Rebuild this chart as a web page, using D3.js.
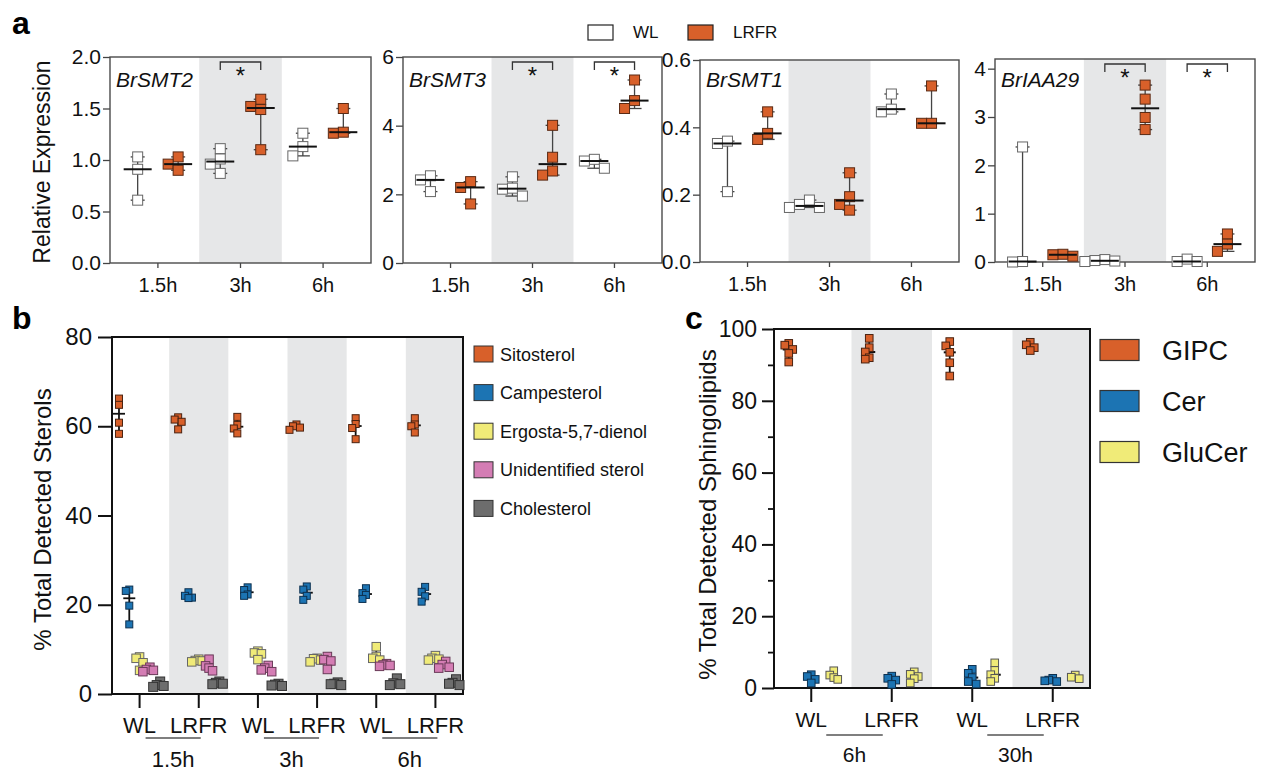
<!DOCTYPE html>
<html><head><meta charset="utf-8">
<script src="https://cdn.jsdelivr.net/npm/d3@7"></script>
<style>
body{margin:0;background:#fff;}
svg{font-family:"Liberation Sans",Arial,Helvetica,sans-serif;}
</style></head><body>
<svg id="chart" width="1266" height="771"></svg>
<script>
// ---------------- data ----------------
const timepoints = ["1.5h","3h","6h"];
const conditions = ["WL","LRFR"];
const genes = ["BrSMT2","BrSMT3","BrSMT1","BrIAA29"];
const yMax = [2, 6, 0.6, 4.2];
const yTicks = [[0,0.5,1,1.5,2],[0,2,4,6],[0,0.2,0.4,0.6],[0,1,2,3,4]];
const smt2WL   = [[1.03,0.91,0.61],[1.11,1.01,0.96,0.87],[1.26,1.13,1.04]];
const smt2LRFR = [[1.03,0.96,0.90],[1.59,1.52,1.49,1.10],[1.50,1.27,1.26]];
const smt3WL   = [[2.54,2.42,2.08],[2.51,2.18,2.15,1.95],[3.02,2.97,2.76]];
const smt3LRFR = [[2.37,2.20,1.72],[4.01,3.08,2.68,2.56],[5.33,4.73,4.50]];
const smt1WL   = [[0.359,0.352,0.209],[0.184,0.171,0.162,0.162],[0.499,0.454,0.446]];
const smt1LRFR = [[0.446,0.382,0.364],[0.265,0.194,0.171,0.154],[0.523,0.412,0.412]];
const iaaWL    = [[2.38,0.01,0.0],[0.05,0.03,0.02,0.01],[0.06,0.01,0.01]];
const iaaLRFR  = [[0.16,0.15,0.12],[3.66,3.37,2.99,2.74],[0.58,0.37,0.22]];
const significant = [[1],[1,2],[],[1,2]];

const sterols = ["Sitosterol","Campesterol","Ergosta-5,7-dienol","Unidentified sterol","Cholesterol"];
const sterolTimes = ["1.5h","3h","6h"];
const sitosterol   = [[66.2,64.8,60.8,58.3],[62.0,61.5,61.0,59.3],[62.1,60.3,59.5,58.4],[60.4,60.0,59.7,59.2],[61.8,60.5,59.6,57.1],[61.8,60.4,60.0,58.6]];
const campesterol  = [[23.4,23.1,19.8,15.6],[22.8,22.0,21.6,21.5],[23.9,23.3,22.3,22.0],[24.1,23.4,22.0,21.1],[23.7,22.6,22.2,21.3],[24.0,22.9,21.9,20.7]];
const ergosta      = [[8.3,8.0,7.0,5.3],[7.8,7.5,7.4,7.2],[9.6,9.2,9.0,7.7],[8.0,7.9,7.6,7.2],[10.6,8.4,8.0,7.6],[8.6,8.0,7.8,7.6]];
const unidentified = [[6.0,5.5,5.3,5.0],[7.8,6.3,5.8,5.2],[6.4,5.8,5.0,5.4],[8.4,7.7,7.4,5.5],[6.8,6.5,6.4,6.2],[7.3,6.6,6.0,5.8]];
const cholesterol  = [[2.8,2.0,1.8,1.6],[2.8,2.5,2.3,2.2],[2.3,2.1,1.8,1.9],[2.6,2.3,2.0,2.2],[3.5,2.4,2.2,2.0],[3.3,2.5,2.0,2.3]];
const sterolTicks = [0,20,40,60,80];

const lipidClasses = ["GIPC","Cer","GluCer"];
const lipidTimes = ["6h","30h"];
const gipc   = [[96.0,95.5,94.3,93.2,90.8],[97.4,94.8,93.6,92.0,91.6],[96.5,95.3,93.5,90.6,86.9],[96.3,95.6,94.8,94.0]];
const cer    = [[3.7,3.2,2.4,1.4],[3.3,2.7,2.2,1.0],[5.2,4.1,2.9,1.8,1.1],[2.7,2.2,1.8,2.0]];
const glucer = [[4.8,3.6,2.9,2.4],[4.5,3.8,3.2,2.6,1.4],[7.0,4.9,3.7,2.7,1.8],[3.6,3.0,2.6]];
const lipidTicks = [0,20,40,60,80,100];

// ---------------- drawing ----------------
const svg = d3.select("#chart");
const ORANGE="#d8602a", BLUE="#1c74b3", YELLOW="#f0eb78", PINK="#d47db4", DGRAY="#6d6d6d", BAND="#e6e7e8";

function swarm(vals, y, step, thresh){
  const placed=[];
  const cands=[0];
  for(let i=1;i<8;i++){cands.push(-i*step, i*step);}
  return vals.map(v=>{
    const py=y(v); let off=0;
    for(const c of cands){
      if(!placed.some(p=>Math.abs(p.y-py)<thresh && Math.abs(p.x-c)<step*0.99)){off=c;break;}
    }
    placed.push({x:off,y:py});
    return off;
  });
}
function styleAxis(g, size){
  g.selectAll("text").attr("fill","#111").style("font-size",size+"px").style("font-family",'"Liberation Sans",Arial,sans-serif');
  g.select(".domain").remove();
}

// panel labels
[["a",12,34],["b",12,329],["c",685,329]].forEach(([t,x,y])=>{
  svg.append("text").attr("x",x).attr("y",y).text(t).attr("font-weight","bold").attr("font-size",32).attr("fill","#000");
});

// ---- panel a ----
const aBoxes=[{x0:110,x1:371,y0:57,y1:263},{x0:403,x1:662,y0:57,y1:263},{x0:700,x1:959,y0:60,y1:262},{x0:995,x1:1255,y0:59,y1:262}];
const aWL=[smt2WL,smt3WL,smt1WL,iaaWL], aLR=[smt2LRFR,smt3LRFR,smt1LRFR,iaaLRFR];
genes.forEach((gname,gi)=>{
  const b=aBoxes[gi];
  const x=d3.scaleBand().domain(timepoints).range([b.x0,b.x1]).paddingOuter(0.08).paddingInner(0);
  const y=d3.scaleLinear().domain([0,yMax[gi]]).range([b.y1,b.y0]);
  const G=svg.append("g");
  G.append("rect").attr("x",x("3h")).attr("y",b.y0).attr("width",x.bandwidth()).attr("height",b.y1-b.y0).attr("fill",BAND);
  const fmt = (gi===0||gi===2)? d3.format(".1f") : d3.format("d");
  const ya=G.append("g").attr("transform",`translate(${b.x0},0)`).call(d3.axisLeft(y).tickValues(yTicks[gi]).tickFormat(fmt).tickSize(7).tickPadding(2));
  styleAxis(ya,21); ya.selectAll("line").attr("stroke","#444").attr("stroke-width",1.3);
  const xa=G.append("g").attr("transform",`translate(0,${b.y1})`).call(d3.axisBottom(x).tickSize(5).tickPadding(10));
  styleAxis(xa,20); xa.selectAll("line").attr("stroke","#444").attr("stroke-width",1.3);
  G.append("rect").attr("x",b.x0).attr("y",b.y0).attr("width",b.x1-b.x0).attr("height",b.y1-b.y0).attr("fill","none").attr("stroke","#4a4a4a").attr("stroke-width",1.4);
  G.append("text").attr("x",b.x0+6).attr("y",87).text(gname).attr("font-style","italic").attr("font-size",21).attr("fill","#111");
  const off=x.bandwidth()*0.245;
  timepoints.forEach((t,ti)=>{
    [[aWL[gi][ti],-off,"#fff","#666"],[aLR[gi][ti],off,ORANGE,"#5a2a14"]].forEach(([vals,dx,fill,stroke])=>{
      const cx=x(t)+x.bandwidth()/2+dx;
      const mn=d3.min(vals), mx=d3.max(vals), md=d3.median(vals);
      G.append("line").attr("x1",cx).attr("x2",cx).attr("y1",y(mn)).attr("y2",y(mx)).attr("stroke","#444").attr("stroke-width",1.3);
      [mn,mx].forEach(v=>G.append("line").attr("x1",cx-7).attr("x2",cx+7).attr("y1",y(v)).attr("y2",y(v)).attr("stroke","#444").attr("stroke-width",1.3));
      const offs=swarm(vals,y,10,10);
      vals.forEach((v,i)=>{
        G.append("rect").attr("x",cx+offs[i]-5).attr("y",y(v)-5).attr("width",10).attr("height",10).attr("fill",fill).attr("stroke",stroke).attr("stroke-width",1);
      });
      G.append("line").attr("x1",cx-14).attr("x2",cx+14).attr("y1",y(md)).attr("y2",y(md)).attr("stroke","#111").attr("stroke-width",2);
    });
  });
  significant[gi].forEach(ti=>{
    const c=x(timepoints[ti])+x.bandwidth()/2;
    const xl=c-off, xr=c+off, yt=b.y0+5;
    G.append("path").attr("d",`M${xl},${yt+8}V${yt}H${xr}V${yt+8}`).attr("fill","none").attr("stroke","#333").attr("stroke-width",1.3);
    G.append("text").attr("x",c).attr("y",yt+22).attr("text-anchor","middle").attr("font-size",24).attr("fill","#111").text("*");
  });
});
// legend a
[["WL","#fff",588,633],["LRFR",ORANGE,688,733]].forEach(([t,f,bx,tx])=>{
  svg.append("rect").attr("x",bx).attr("y",25).attr("width",25).attr("height",15).attr("fill",f).attr("stroke","#222").attr("stroke-width",1.2);
  svg.append("text").attr("x",tx).attr("y",38).text(t).attr("font-size",17).attr("fill","#111");
});

// ---- panel b ----
(function(){
  const b={x0:112,x1:463,y0:337,y1:694};
  const cats=d3.range(6);
  const x=d3.scaleBand().domain(cats).range([110,465]);
  const y=d3.scaleLinear().domain([0,80]).range([b.y1,b.y0]);
  const G=svg.append("g");
  cats.filter(i=>i%2===1).forEach(i=>{
    const x0=Math.max(b.x0,x(i)), x1=Math.min(b.x1,x(i)+x.bandwidth());
    G.append("rect").attr("x",x0).attr("y",b.y0).attr("width",x1-x0).attr("height",b.y1-b.y0).attr("fill",BAND);
  });
  const ya=G.append("g").attr("transform",`translate(${b.x0},0)`).call(d3.axisLeft(y).tickValues(sterolTicks).tickSize(14).tickPadding(6));
  styleAxis(ya,24); ya.selectAll("line").attr("stroke","#111").attr("stroke-width",2);
  const xa=G.append("g").attr("transform",`translate(0,${b.y1})`).call(d3.axisBottom(x).tickFormat(i=>conditions[i%2]).tickSize(14).tickPadding(9));
  styleAxis(xa,22); xa.selectAll("line").attr("stroke","#111").attr("stroke-width",2);
  G.append("path").attr("d",`M${b.x0},${b.y1}V${b.y0}H${b.x1}V${b.y1}H${b.x0}`).attr("fill","none").attr("stroke","#111").attr("stroke-width",2);
  const series=[sitosterol,campesterol,ergosta,unidentified,cholesterol];
  const cols=[ORANGE,BLUE,YELLOW,PINK,DGRAY];
  const strokes=["#4a2210","#0d3150","#666","#6a3a58","#333"];
  const sizes=[7,7,8.5,8.5,9];
  series.forEach((s,si)=>{
    cats.forEach(ci=>{
      const vals=s[ci];
      const cx=x(ci)+x.bandwidth()/2+(si-2)*10.3;
      const mn=d3.min(vals), mx=d3.max(vals), md=d3.median(vals);
      G.append("line").attr("x1",cx).attr("x2",cx).attr("y1",y(mn)).attr("y2",y(mx)).attr("stroke","#111").attr("stroke-width",1.8);
      G.append("line").attr("x1",cx-6).attr("x2",cx+6).attr("y1",y(md)).attr("y2",y(md)).attr("stroke","#111").attr("stroke-width",1.8);
      const offs=swarm(vals,y,3.5,sizes[si]*0.8);
      vals.forEach((v,i)=>{
        const h=sizes[si];
        G.append("rect").attr("x",cx+offs[i]-h/2).attr("y",y(v)-h/2).attr("width",h).attr("height",h).attr("fill",cols[si]).attr("stroke",strokes[si]).attr("stroke-width",1);
      });
    });
  });
  sterolTimes.forEach((t,ti)=>{
    const xl=x(ti*2)+x.bandwidth()/2+6, xr=x(ti*2+1)+x.bandwidth()/2+2;
    G.append("line").attr("x1",xl).attr("x2",xr).attr("y1",738).attr("y2",738).attr("stroke","#555").attr("stroke-width",1.5);
    G.append("text").attr("x",(xl+xr)/2).attr("y",767).attr("text-anchor","middle").attr("font-size",22).attr("fill","#111").text(t);
  });
  G.append("text").attr("transform",`translate(51,${(b.y0+b.y1)/2+4}) rotate(-90)`).attr("text-anchor","middle").attr("font-size",24).attr("fill","#111").text("% Total Detected Sterols");
  sterols.forEach((s,i)=>{
    const yy=354+i*38.6;
    G.append("rect").attr("x",474).attr("y",yy-8).attr("width",19).attr("height",16).attr("fill",cols[i]).attr("stroke","#333").attr("stroke-width",1);
    G.append("text").attr("x",500).attr("y",yy+6.5).attr("font-size",18).attr("fill","#111").text(s);
  });
})();

// ---- panel c ----
(function(){
  const b={x0:774,x1:1090,y0:329,y1:688};
  const cats=d3.range(4);
  const x=d3.scaleBand().domain(cats).range([771,1093]);
  const y=d3.scaleLinear().domain([0,100]).range([b.y1,b.y0]);
  const G=svg.append("g");
  cats.filter(i=>i%2===1).forEach(i=>{
    const x0=Math.max(b.x0,x(i)), x1=Math.min(b.x1,x(i)+x.bandwidth());
    G.append("rect").attr("x",x0).attr("y",b.y0).attr("width",x1-x0).attr("height",b.y1-b.y0).attr("fill",BAND);
  });
  const minor=G.append("g").attr("transform",`translate(${b.x0},0)`).call(d3.axisLeft(y).tickValues(d3.range(10,100,20)).tickFormat("").tickSize(6));
  minor.select(".domain").remove(); minor.selectAll("line").attr("stroke","#111").attr("stroke-width",1.8);
  const ya=G.append("g").attr("transform",`translate(${b.x0},0)`).call(d3.axisLeft(y).tickValues(lipidTicks).tickSize(12).tickPadding(5));
  styleAxis(ya,23); ya.selectAll("line").attr("stroke","#111").attr("stroke-width",2);
  const xa=G.append("g").attr("transform",`translate(0,${b.y1})`).call(d3.axisBottom(x).tickFormat(i=>conditions[i%2]).tickSize(14).tickPadding(10));
  styleAxis(xa,21); xa.selectAll("line").attr("stroke","#111").attr("stroke-width",2);
  G.append("path").attr("d",`M${b.x0},${b.y1}V${b.y0}H${b.x1}V${b.y1}H${b.x0}`).attr("fill","none").attr("stroke","#111").attr("stroke-width",2);
  const series=[gipc,cer,glucer];
  const cols=[ORANGE,BLUE,YELLOW];
  const strokes=["#4a2210","#0d3150","#555"];
  series.forEach((s,si)=>{
    cats.forEach(ci=>{
      const vals=s[ci];
      const cx=x(ci)+x.bandwidth()/2+(si-1)*22.5;
      const mn=d3.min(vals), mx=d3.max(vals), md=d3.median(vals);
      G.append("line").attr("x1",cx).attr("x2",cx).attr("y1",y(mn)).attr("y2",y(mx)).attr("stroke","#111").attr("stroke-width",1.8);
      G.append("line").attr("x1",cx-6).attr("x2",cx+6).attr("y1",y(md)).attr("y2",y(md)).attr("stroke","#111").attr("stroke-width",2);
      const offs=swarm(vals,y,4,6.5);
      vals.forEach((v,i)=>{
        G.append("rect").attr("x",cx+offs[i]-3.8).attr("y",y(v)-3.8).attr("width",7.6).attr("height",7.6).attr("fill",cols[si]).attr("stroke",strokes[si]).attr("stroke-width",1);
      });
    });
  });
  lipidTimes.forEach((t,ti)=>{
    const xl=x(ti*2)+x.bandwidth()/2+15, xr=x(ti*2+1)+x.bandwidth()/2-9;
    G.append("line").attr("x1",xl).attr("x2",xr).attr("y1",735).attr("y2",735).attr("stroke","#555").attr("stroke-width",1.5);
    G.append("text").attr("x",(xl+xr)/2).attr("y",762).attr("text-anchor","middle").attr("font-size",21).attr("fill","#111").text(t);
  });
  G.append("text").attr("transform",`translate(716,${(b.y0+b.y1)/2+6}) rotate(-90)`).attr("text-anchor","middle").attr("font-size",24).attr("fill","#111").text("% Total Detected Sphingolipids");
  lipidClasses.forEach((s,i)=>{
    const yy=350+i*51;
    G.append("rect").attr("x",1100).attr("y",yy-10.5).attr("width",39).attr("height",21).attr("fill",cols[i]).attr("stroke","#333").attr("stroke-width",1.2);
    G.append("text").attr("x",1162).attr("y",yy+9.5).attr("font-size",27).attr("fill","#111").text(s);
  });
})();

// y label for panel a
svg.append("text").attr("transform","translate(50,162) rotate(-90)").attr("text-anchor","middle").attr("font-size",23).attr("fill","#111").text("Relative Expression");
</script></body></html>
